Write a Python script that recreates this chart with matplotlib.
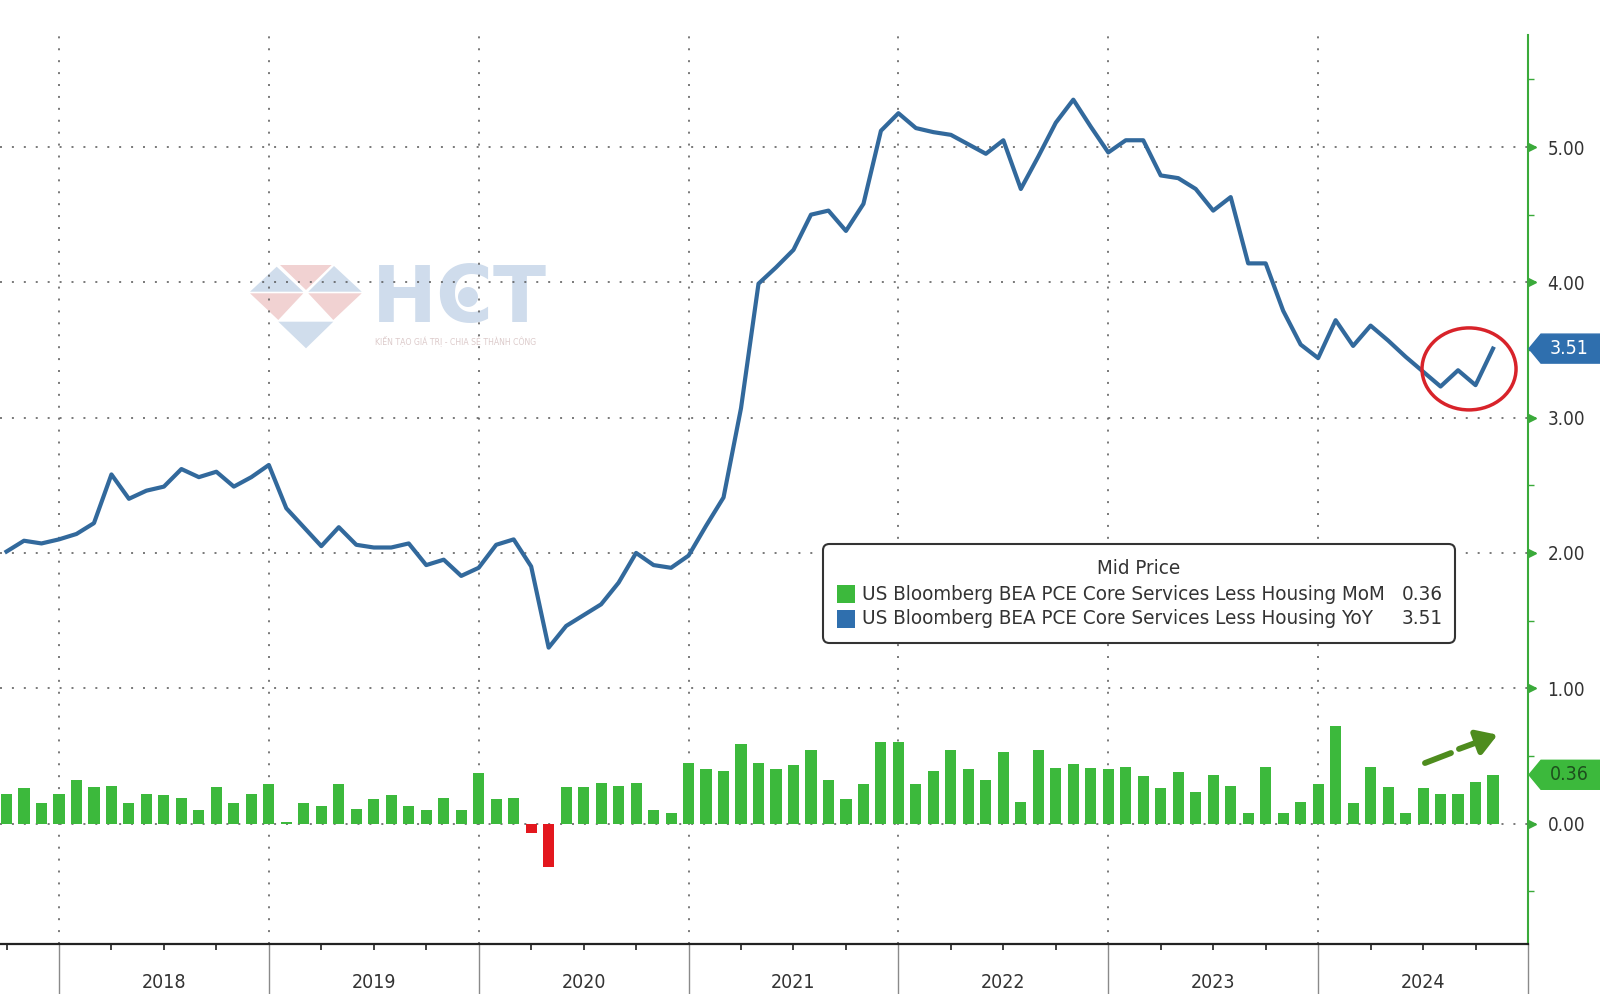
import numpy as np
import pandas as pd
import matplotlib
matplotlib.use('Agg')
import matplotlib.pyplot as plt
from matplotlib import font_manager
from matplotlib.patches import Polygon, FancyBboxPatch, Rectangle, Ellipse
from matplotlib.ticker import FixedLocator, MultipleLocator, FormatStrFormatter
import matplotlib.transforms as mtransforms

# ---------------- data ----------------
months = pd.period_range('2017-09', '2024-10', freq='M')
mom = [0.22, 0.26, 0.15, 0.22,
       0.32, 0.27, 0.28, 0.15, 0.22, 0.21, 0.19, 0.10, 0.27, 0.15, 0.22, 0.29,
       0.01, 0.15, 0.13, 0.29, 0.11, 0.18, 0.21, 0.13, 0.10, 0.19, 0.10, 0.37,
       0.18, 0.19, -0.07, -0.32, 0.27, 0.27, 0.30, 0.28, 0.30, 0.10, 0.08, 0.45,
       0.40, 0.39, 0.59, 0.45, 0.40, 0.43, 0.54, 0.32, 0.18, 0.29, 0.60, 0.60,
       0.29, 0.39, 0.54, 0.40, 0.32, 0.53, 0.16, 0.54, 0.41, 0.44, 0.41, 0.40,
       0.42, 0.35, 0.26, 0.38, 0.23, 0.36, 0.28, 0.08, 0.42, 0.08, 0.16, 0.29,
       0.72, 0.15, 0.42, 0.27, 0.08, 0.26, 0.22, 0.22, 0.31, 0.36]
yoy = [2.01, 2.09, 2.07, 2.10,
       2.14, 2.22, 2.58, 2.40, 2.46, 2.49, 2.62, 2.56, 2.60, 2.49, 2.56, 2.65,
       2.33, 2.19, 2.05, 2.19, 2.06, 2.04, 2.04, 2.07, 1.91, 1.95, 1.83, 1.89,
       2.06, 2.10, 1.90, 1.30, 1.46, 1.54, 1.62, 1.78, 2.00, 1.91, 1.89, 1.98,
       2.20, 2.41, 3.07, 3.99, 4.11, 4.24, 4.50, 4.53, 4.38, 4.58, 5.12, 5.25,
       5.14, 5.11, 5.09, 5.02, 4.95, 5.05, 4.69, 4.93, 5.18, 5.35, 5.15, 4.96,
       5.05, 5.05, 4.79, 4.77, 4.69, 4.53, 4.63, 4.14, 4.14, 3.79, 3.54, 3.44,
       3.72, 3.53, 3.68, 3.57, 3.45, 3.34, 3.23, 3.35, 3.24, 3.51]
year_labels = ['2018', '2019', '2020', '2021', '2022', '2023', '2024']
legend_title = 'Mid Price'
series_names = ['US Bloomberg BEA PCE Core Services Less Housing MoM',
                'US Bloomberg BEA PCE Core Services Less Housing YoY']
watermark_text = 'HCT'
watermark_tagline = 'KIẾN TẠO GIÁ TRỊ - CHIA SẺ THÀNH CÔNG'

# ---------------- styles ----------------
GREEN = '#3cb93c'
RED = '#e3171e'
BLUE = '#32699c'
TAGBLUE = '#2f6fae'
AXGREEN = '#3aaa3a'
GRID = '#555555'
TXT = '#333333'


def pick_font():
    for f in font_manager.fontManager.ttflist:
        if f.name == 'DejaVu Sans' and str(f.stretch) == 'condensed':
            return dict(family='DejaVu Sans', fontstretch='condensed')
    names = {f.name for f in font_manager.fontManager.ttflist}
    for n in ['DejaVu Sans Condensed', 'Liberation Sans Narrow', 'Roboto Condensed',
              'Open Sans Condensed']:
        if n in names:
            return dict(family=n)
    return dict(family='DejaVu Sans')


FONT = pick_font()

W, H = 1600, 994
fig = plt.figure(figsize=(W / 100, H / 100), dpi=100, facecolor='white')


def fx(px):
    return px / W


def fy(py):
    return 1 - py / H


AX_L, AX_R, AX_T, AX_B = 0, 1528, 35, 944
ax = fig.add_axes([fx(AX_L), fy(AX_B), fx(AX_R - AX_L), (AX_B - AX_T) / H])
ax.patch.set_visible(False)

x = (months.year + months.month / 12.0).to_numpy(dtype=float)
mom_arr = np.array(mom)
yoy_arr = np.array(yoy)

ax.set_xlim(2017.719, 2025.0)
ax.set_ylim(-0.8906, 5.828)

bar_colors = [GREEN if v >= 0 else RED for v in mom_arr]
ax.bar(x, mom_arr, width=0.053, color=bar_colors, linewidth=0, zorder=2)
ax.plot(x, yoy_arr, color=BLUE, lw=3.0, zorder=3, solid_joinstyle='round')

# axes / ticks
for s in ['left', 'top']:
    ax.spines[s].set_visible(False)
ax.spines['right'].set_color(AXGREEN)
ax.spines['right'].set_linewidth(1.5)
ax.spines['bottom'].set_color('#222222')
ax.spines['bottom'].set_linewidth(1.6)

year_ticks = np.arange(int(year_labels[0]), int(year_labels[-1]) + 2)
quarter_ticks = np.arange(2017.75, 2025.0, 0.25)
quarter_ticks = [q for q in quarter_ticks if abs(q - round(q)) > 1e-6]
ax.xaxis.set_major_locator(FixedLocator(year_ticks))
ax.xaxis.set_minor_locator(FixedLocator(quarter_ticks))
ax.tick_params(axis='x', which='major', direction='out', length=37, width=1.0,
               color='#8a8a8a', labelbottom=False)
ax.tick_params(axis='x', which='minor', direction='out', length=4, width=1.3,
               color='#333333')

ax.yaxis.tick_right()
ax.yaxis.set_major_locator(MultipleLocator(1))
ax.yaxis.set_minor_locator(MultipleLocator(0.5))
ax.yaxis.set_major_formatter(FormatStrFormatter('%.2f'))
ax.tick_params(axis='y', which='major', direction='out', length=6, width=1.2,
               color=AXGREEN, labelsize=13.5, labelcolor=TXT, pad=8)
ax.tick_params(axis='y', which='minor', direction='out', length=4, width=1.0,
               color=AXGREEN)
for lab in ax.get_yticklabels():
    lab.set_family(FONT['family'])
    if 'fontstretch' in FONT:
        lab.set_stretch(FONT['fontstretch'])

# triangle markers at major right ticks
ytr = mtransforms.blended_transform_factory(ax.transAxes, ax.transData)
ymaj = np.arange(0, 6)
ax.plot(np.full(len(ymaj), 1.0028), ymaj, ls='none', marker='>', ms=6,
        color=AXGREEN, transform=ytr, clip_on=False, zorder=5)

ax.grid(True, which='major', axis='both', color=GRID, lw=1.1,
        linestyle=(0, (1.3, 6.5)))
ax.set_axisbelow(True)

# year labels
xtr = ax.get_xaxis_transform()
for lab in year_labels:
    ax.text(int(lab) + 0.5, -(983 - AX_B) / (AX_B - AX_T), lab, transform=xtr,
            ha='center', va='center', fontsize=14, color=TXT, clip_on=False, **FONT)

# ---------------- annotations ----------------
ax.add_patch(Ellipse((2024.719, 3.36), width=0.448, height=0.606, fill=False,
                     ec='#d8232a', lw=2.5, zorder=6, clip_on=False))
ARROW = '#4e8c1e'
ax.plot([2024.509, 2024.633], [0.447, 0.521], color=ARROW, lw=4.2,
        solid_capstyle='round', zorder=6)
ax.annotate('', xy=(2024.855, 0.656), xytext=(2024.671, 0.551),
            arrowprops=dict(arrowstyle='-|>,head_length=0.8,head_width=0.5',
                            lw=4.2, color=ARROW, shrinkA=0, shrinkB=0,
                            mutation_scale=15), zorder=6)


# value tags on the right axis
def tag(val, text, fc, tc):
    yd = ax.transData.transform((2025.0, val))[1] / H
    hh = 14.5 / H
    xt, xb, xr = fx(1529), fx(1541), fx(1601)
    poly = Polygon([(xt, yd), (xb, yd + hh), (xr, yd + hh), (xr, yd - hh), (xb, yd - hh)],
                   closed=True, transform=fig.transFigure, fc=fc, ec=fc, zorder=6)
    fig.add_artist(poly)
    fig.text(fx(1569), yd, text, ha='center', va='center', color=tc,
             fontsize=14, zorder=7, **FONT)


tag(yoy_arr[-1], f'{yoy_arr[-1]:.2f}', TAGBLUE, 'white')
tag(mom_arr[-1], f'{mom_arr[-1]:.2f}', GREEN, '#1d4f1d')

# ---------------- legend ----------------
lb = FancyBboxPatch((fx(823), fy(643)), fx(1455 - 823), (643 - 544) / H,
                    boxstyle='round,pad=0,rounding_size=0.004',
                    mutation_aspect=1.6, transform=fig.transFigure,
                    fc='white', ec='#333333', lw=1.5, zorder=8)
fig.add_artist(lb)
title_t = fig.text(fx(1139), fy(569), legend_title, ha='center', va='center',
                   color=TXT, fontsize=14, zorder=9, **FONT)
row_y = [594, 619]
row_cols = [GREEN, TAGBLUE]
row_vals = [f'{mom_arr[-1]:.2f}', f'{yoy_arr[-1]:.2f}']
lab_texts = []
val_texts = []
for name, ry, c, v in zip(series_names, row_y, row_cols, row_vals):
    fig.add_artist(Rectangle((fx(837), fy(ry + 9)), fx(18), 18 / H, transform=fig.transFigure,
                             fc=c, ec='none', zorder=9))
    lab_texts.append(fig.text(fx(862), fy(ry), name, ha='left', va='center',
                              color=TXT, fontsize=14, zorder=9, **FONT))
    val_texts.append(fig.text(fx(1443), fy(ry), v, ha='right', va='center',
                              color=TXT, fontsize=14, zorder=9, **FONT))

# fit legend text size to the reference width
renderer = fig.canvas.get_renderer()
w0 = lab_texts[0].get_window_extent(renderer).width
new_size = 14 * 526.0 / w0
for t in lab_texts + val_texts + [title_t]:
    t.set_fontsize(new_size)

# ---------------- watermark ----------------
WB = '#d0ddec'
WR = '#f1d2d2'
tri = [
    ([(276.7, 266.7), (250, 291.7), (303.3, 291.7)], WB),
    ([(280, 265), (331.7, 265), (306, 290)], WR),
    ([(334, 266), (308.3, 291.7), (361.7, 291.7)], WB),
    ([(250, 293.3), (303.3, 293.3), (278.3, 320)], WR),
    ([(308.3, 293.3), (361.7, 293.3), (333.3, 320)], WR),
    ([(278.3, 321.7), (333.3, 321.7), (306, 348.3)], WB),
]
for pts, c in tri:
    fig.add_artist(Polygon([(fx(a), fy(b)) for a, b in pts], closed=True,
                           transform=fig.transFigure, fc=c, ec='none', zorder=-1))
fig.text(fx(372), fy(322), watermark_text, ha='left', va='baseline', fontsize=56,
         fontweight='bold', color='#cfdcec', family='DejaVu Sans', zorder=-1)
fig.add_artist(Ellipse((fx(468), fy(297)), fx(20), 20 / H, transform=fig.transFigure,
                       fc='#cfdcec', ec='none', zorder=-1))
fig.text(fx(375), fy(341), watermark_tagline, ha='left', va='center', fontsize=5.6,
         color='#dccaca', family='DejaVu Sans', zorder=-1)

fig.savefig('out.png', dpi=100, facecolor='white')
